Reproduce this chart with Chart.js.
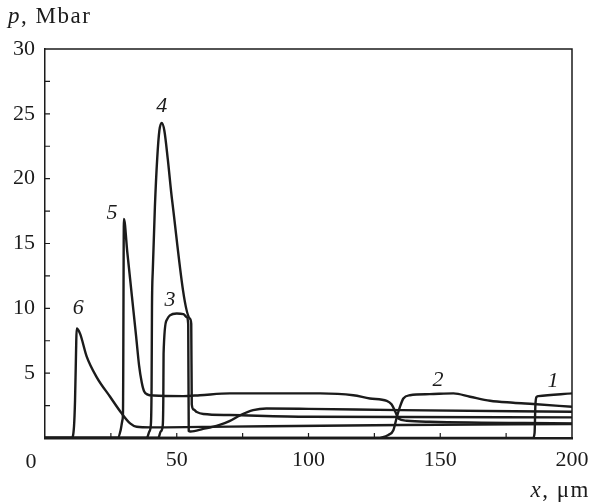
<!DOCTYPE html>
<html>
<head>
<meta charset="utf-8">
<script src="https://cdn.jsdelivr.net/npm/chart.js@4"></script>
<style>
  html, body { margin: 0; padding: 0; background: #ffffff; }
  #wrap { width: 592px; height: 503px; }
</style>
</head>
<body>
<div id="wrap"><canvas id="chart" width="592" height="503"></canvas></div>
<script>
"use strict";

// Curve data: x in um, p in Mbar
var x1 = [0, 185.2, 185.8, 186.1, 186.5, 187.2, 200];
var p1 = [0, 0, 0.4, 2.5, 3.15, 3.23, 3.44];

var x2 = [0, 125.8, 130.3, 132.2, 133.5, 134.7, 136, 138.5, 146, 155, 161.3, 168.9, 177.7, 185.3, 200];
var p2 = [0, 0, 0.23, 0.6, 1.6, 2.4, 3.05, 3.3, 3.38, 3.44, 3.18, 2.87, 2.72, 2.62, 2.41];

var x3 = [0, 43, 43.9, 44.7, 44.9, 45.0, 46.2, 47.4, 50, 52.5, 53.8, 54.35, 54.55, 55.2, 60, 66, 70, 74, 79, 84, 100, 135, 200];
var p3 = [0, 0, 0.5, 1.0, 3, 6.5, 9.1, 9.46, 9.6, 9.55, 9.33, 8.8, 0.55, 0.5, 0.7, 1.0, 1.3, 1.75, 2.15, 2.28, 2.25, 2.15, 2.02];

var x4 = [0, 38.6, 39.6, 40.2, 40.45, 40.6, 40.9, 41.7, 42.6, 43.4, 44.3, 45.3, 46.6, 48.2, 55, 55.5, 55.7, 56.4, 57.6, 60.1, 70.2, 100, 200];
var p4 = [0, 0, 0.5, 1.1, 4, 10.1, 12.9, 17.8, 21.6, 23.7, 24.3, 23.7, 21.5, 18.4, 9.2, 8.8, 2.6, 2.2, 2.0, 1.85, 1.77, 1.64, 1.59];

var x5 = [0, 27.6, 28.7, 29.4, 29.6, 29.95, 31.2, 33, 34.6, 35.7, 36.7, 37.6, 39, 41.1, 52.5, 58.8, 70.2, 104.4, 117, 123.3, 129.7, 131.5, 133, 134.1, 137.3, 146, 200];
var p5 = [0, 0, 0.6, 1.4, 2, 16.9, 14.4, 10.9, 7.8, 5.6, 4.3, 3.6, 3.35, 3.28, 3.23, 3.3, 3.44, 3.44, 3.3, 3.05, 2.87, 2.6, 2.0, 1.5, 1.33, 1.25, 1.13];

var x6 = [0, 10.1, 11, 11.4, 11.8, 12, 13.3, 15.8, 19.6, 24.7, 29.1, 32.3, 34.8, 40, 70, 135, 200];
var p6 = [0, 0, 0.87, 2.9, 6.8, 8.44, 8.05, 6.3, 4.7, 3.18, 1.9, 1.13, 0.87, 0.82, 0.88, 1.0, 1.08];

// Curve numbers and where they sit (data coordinates)
var curveNames = ['1', '2', '3', '4', '5', '6'];
var nameX = [192.8, 149.1, 47.4, 44.3, 25.4, 12.6];
var nameY = [4.38, 4.46, 10.6, 25.6, 17.3, 10.0];

var inkColor = '#1b1b1b';
var fontFamily = '"Liberation Serif", "Times New Roman", serif';

var toPoints = function (xs, ps) {
    return xs.map(function (x, i) { return { x: x, y: ps[i] }; });
};

var makeDataset = function (xs, ps) {
    return {
        data: toPoints(xs, ps),
        borderColor: inkColor,
        borderWidth: 2.4,
        pointRadius: 0,
        showLine: true,
        fill: false,
        cubicInterpolationMode: 'monotone'
    };
};

// draws italic symbol + upright tail, e.g. "p" + ", Mbar"
var drawTitle = function (ctx, sym, tail, x, y, alignRight) {
    ctx.letterSpacing = '1.5px';
    ctx.font = 'italic 23px ' + fontFamily;
    var ws = ctx.measureText(sym).width;
    ctx.font = '23px ' + fontFamily;
    var wt = ctx.measureText(tail).width;
    var left = alignRight ? x - ws - wt : x;
    ctx.textAlign = 'left';
    ctx.font = 'italic 23px ' + fontFamily;
    ctx.fillText(sym, left, y);
    ctx.font = '23px ' + fontFamily;
    ctx.fillText(tail, left + ws, y);
    ctx.letterSpacing = '0px';
};

// Frame, inner ticks, titles and curve numbers
var decorPlugin = {
    id: 'decor',
    afterDraw: function (chart) {
        var ctx = chart.ctx;
        var area = chart.chartArea;
        var xs = chart.scales.x;
        var ys = chart.scales.y;
        var v, px, py;

        ctx.save();
        ctx.strokeStyle = inkColor;
        ctx.lineWidth = 1.5;
        ctx.beginPath();
        ctx.moveTo(area.left, area.top);
        ctx.lineTo(area.right, area.top);
        ctx.lineTo(area.right, area.bottom);
        ctx.stroke();

        ctx.lineWidth = 1.2;
        ctx.beginPath();
        for (v = 25; v < 200; v += 25) {
            px = xs.getPixelForValue(v);
            ctx.moveTo(px, area.bottom);
            ctx.lineTo(px, area.bottom - 5);
        }
        for (v = 2.5; v < 30; v += 2.5) {
            py = ys.getPixelForValue(v);
            ctx.moveTo(area.left, py);
            ctx.lineTo(area.left + 5, py);
        }
        ctx.stroke();

        ctx.fillStyle = inkColor;
        ctx.textBaseline = 'alphabetic';

        // "0" on the x axis sits left of the corner
        ctx.font = '22px ' + fontFamily;
        ctx.textAlign = 'center';
        ctx.fillText('0', area.left - 14, area.bottom + 30);

        drawTitle(ctx, 'p', ', Mbar', 8, 23, false);
        drawTitle(ctx, 'x', ', \u03bcm', 590, 497, true);

        // curve numbers
        ctx.textAlign = 'center';
        ctx.textBaseline = 'middle';
        ctx.font = 'italic 22px ' + fontFamily;
        for (var i = 0; i < curveNames.length; i++) {
            ctx.fillText(curveNames[i], xs.getPixelForValue(nameX[i]), ys.getPixelForValue(nameY[i]));
        }
        ctx.restore();
    }
};

var canvas = document.getElementById('chart');
var chart = new Chart(canvas.getContext('2d'), {
    type: 'scatter',
    data: {
        datasets: [
            makeDataset(x1, p1),
            makeDataset(x2, p2),
            makeDataset(x3, p3),
            makeDataset(x4, p4),
            makeDataset(x5, p5),
            makeDataset(x6, p6)
        ]
    },
    options: {
        responsive: false,
        animation: false,
        events: [],
        layout: { padding: { top: 49, right: 20, left: 0, bottom: 0 } },
        plugins: {
            legend: { display: false },
            tooltip: { enabled: false },
            title: { display: false }
        },
        scales: {
            x: {
                type: 'linear',
                min: 0,
                max: 200,
                grid: { display: false, drawTicks: false },
                border: { display: true, color: inkColor, width: 2.5 },
                ticks: {
                    stepSize: 50,
                    padding: 9,
                    color: inkColor,
                    font: { family: fontFamily, size: 22 },
                    maxRotation: 0,
                    callback: function (value) { return value === 0 ? '' : value; }
                },
                afterFit: function (scale) {
                    scale.height = 65;
                    scale.paddingLeft = 0;
                    scale.paddingRight = 0;
                }
            },
            y: {
                type: 'linear',
                min: 0,
                max: 30,
                grid: { display: false, drawTicks: false },
                border: { display: true, color: inkColor, width: 1.5 },
                ticks: {
                    stepSize: 5,
                    padding: 10,
                    color: inkColor,
                    font: { family: fontFamily, size: 22 },
                    callback: function (value) { return value === 0 ? '' : value; }
                },
                afterFit: function (scale) {
                    scale.width = 45;
                    scale.paddingTop = 0;
                    scale.paddingBottom = 0;
                }
            }
        }
    },
    plugins: [decorPlugin]
});
</script>
</body>
</html>
